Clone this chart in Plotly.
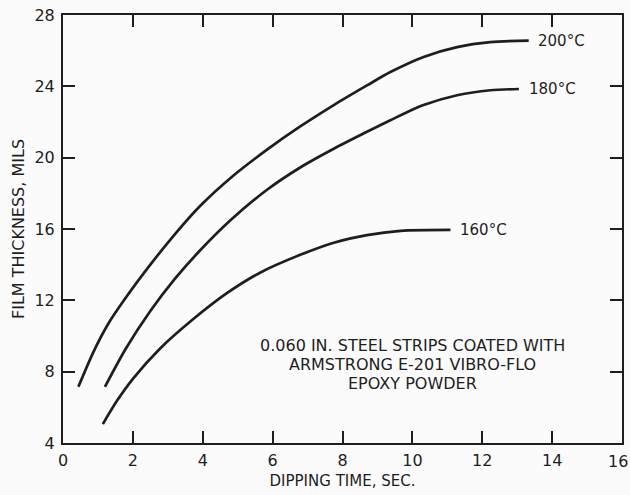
import plotly.graph_objects as go

# Data
x_200 = [0.44, 0.87, 1.3, 1.78, 2.5, 3.2, 3.93, 4.88, 5.84, 6.79, 7.75, 8.7, 9.37, 10.32, 11.28, 12.23, 13.33]
y_200 = [7.15, 9.1, 10.7, 12.1, 14.0, 15.7, 17.3, 19.0, 20.45, 21.75, 22.95, 24.05, 24.8, 25.65, 26.2, 26.48, 26.56]

x_180 = [1.2, 1.8, 2.5, 3.2, 3.9, 4.8, 5.84, 6.79, 7.75, 8.7, 9.37, 10.32, 11.28, 12.23, 13.05]
y_180 = [7.15, 9.3, 11.4, 13.2, 14.75, 16.5, 18.2, 19.45, 20.5, 21.45, 22.1, 22.95, 23.5, 23.78, 23.85]

x_160 = [1.14, 1.54, 2.0, 2.78, 3.73, 4.69, 5.64, 6.79, 7.75, 8.7, 9.66, 11.09]
y_160 = [5.06, 6.35, 7.6, 9.3, 10.95, 12.4, 13.55, 14.55, 15.23, 15.66, 15.9, 15.95]

series_labels = ["200°C", "180°C", "160°C"]
x_ticks = [0, 2, 4, 6, 8, 10, 12, 14, 16]
y_ticks = [4, 8, 12, 16, 20, 24, 28]

note_lines = ["0.060 IN. STEEL STRIPS COATED WITH",
              "ARMSTRONG E-201 VIBRO-FLO",
              "EPOXY POWDER"]
note_x = 10.0
note_y = [9.46, 8.40, 7.33]

ink = "#1e1e1e"
font_family = "DejaVu Sans, Liberation Sans, sans-serif"

fig = go.Figure()
for xs, ys in [(x_200, y_200), (x_180, y_180), (x_160, y_160)]:
    fig.add_trace(go.Scatter(x=xs, y=ys, mode="lines",
                             line=dict(color=ink, width=2.7, shape="spline", smoothing=0.8),
                             showlegend=False, hoverinfo="skip"))

for xs, ys, lab in [(x_200, y_200, series_labels[0]),
                    (x_180, y_180, series_labels[1]),
                    (x_160, y_160, series_labels[2])]:
    fig.add_annotation(x=xs[-1] + 0.22, y=ys[-1], text=lab, showarrow=False,
                       xanchor="left", yanchor="middle",
                       font=dict(size=15, color=ink, family=font_family))

for line, yv in zip(note_lines, note_y):
    fig.add_annotation(x=note_x, y=yv, text=line, showarrow=False,
                       xanchor="center", yanchor="middle",
                       font=dict(size=16, color=ink, family=font_family))

# last x tick label sits at the right page edge: anchor it right so it stays visible
fig.add_annotation(x=x_ticks[-1], xref="x", y=0, yref="paper", text=str(x_ticks[-1]),
                   showarrow=False, xanchor="right", yanchor="top", xshift=8, yshift=-7,
                   font=dict(size=16, color=ink, family=font_family))

axis_common = dict(showgrid=False, zeroline=False, showline=True, linecolor=ink,
                   linewidth=2, mirror="ticks", ticks="inside", ticklen=12,
                   tickwidth=2, tickcolor=ink, automargin=False,
                   tickfont=dict(size=16, color=ink, family=font_family))

fig.update_xaxes(range=[0, 16], tickvals=x_ticks,
                 ticktext=[str(v) if v != x_ticks[-1] else "" for v in x_ticks],
                 title=dict(text="DIPPING TIME, SEC.", standoff=6,
                            font=dict(size=15, color=ink, family=font_family)),
                 ticklabelstandoff=2,
                 **axis_common)
fig.update_yaxes(range=[4, 28], tickvals=y_ticks, ticktext=[str(v) for v in y_ticks],
                 title=dict(text="FILM THICKNESS, MILS", standoff=6,
                            font=dict(size=16, color=ink, family=font_family)),
                 ticklabelstandoff=3,
                 **axis_common)

fig.update_layout(width=630, height=495,
                  margin=dict(l=63, r=8, t=15, b=52),
                  paper_bgcolor="#fbfbfb", plot_bgcolor="#fbfbfb")

fig.write_html("out.html",
               config={"displayModeBar": False},
               post_script="document.body.style.margin='0';document.body.style.overflow='hidden';")
